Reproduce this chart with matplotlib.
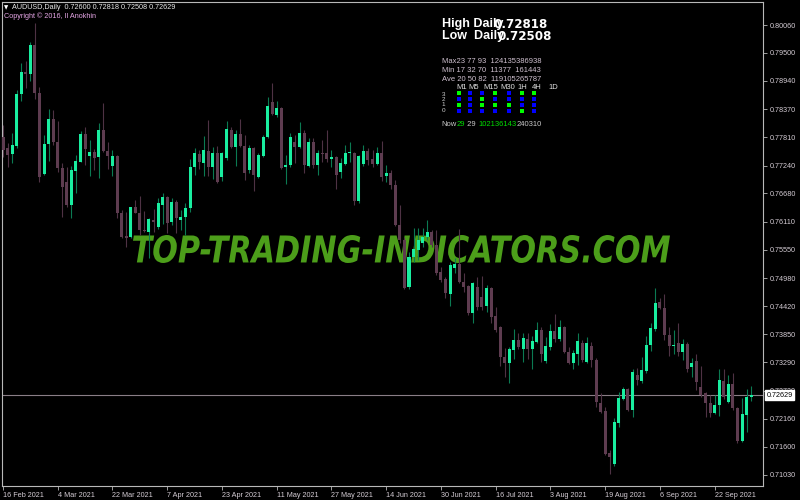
import matplotlib
matplotlib.use("Agg")
import matplotlib.pyplot as plt
import numpy as np
from matplotlib.textpath import TextPath
from matplotlib.patches import PathPatch, Rectangle
from matplotlib.font_manager import FontProperties
from matplotlib.transforms import Affine2D, IdentityTransform, blended_transform_factory

# ---------------- data (daily AUDUSD candles) ----------------
opens = [
    0.77812, 0.77586, 0.77471, 0.77638, 0.78675, 0.79117, 0.79077, 0.79659, 0.78689, 0.77070,
    0.77672, 0.78174, 0.77706, 0.77196, 0.76909, 0.76448, 0.77136, 0.77317, 0.77867, 0.77431,
    0.77505, 0.77405, 0.77953, 0.77537, 0.77236, 0.77431, 0.76293, 0.75825, 0.75799, 0.76401,
    0.76293, 0.75946, 0.75912, 0.76147, 0.76012, 0.76448, 0.76614, 0.76112, 0.76514, 0.76147,
    0.76213, 0.76381, 0.77216, 0.77471, 0.77285, 0.77537, 0.77204, 0.77485, 0.77016, 0.77385,
    0.77953, 0.77618, 0.77873, 0.77632, 0.77150, 0.77586, 0.77016, 0.77431, 0.77806, 0.78515,
    0.78254, 0.78388, 0.77216, 0.77250, 0.77712, 0.77618, 0.77887, 0.77230, 0.77718, 0.77250,
    0.77497, 0.77485, 0.77377, 0.77405, 0.77116, 0.77271, 0.77485, 0.77497, 0.76534, 0.77264,
    0.77537, 0.77365, 0.77271, 0.77497, 0.77030, 0.77084, 0.76849, 0.76046, 0.75745, 0.74808,
    0.75410, 0.75544, 0.75679, 0.75811, 0.75912, 0.75645, 0.75109, 0.74956, 0.74661, 0.75177,
    0.75264, 0.74908, 0.74822, 0.74274, 0.74808, 0.74607, 0.74421, 0.74776, 0.74220, 0.73993,
    0.73403, 0.73271, 0.73537, 0.73738, 0.73551, 0.73752, 0.73551, 0.73704, 0.73939, 0.73317,
    0.73592, 0.73919, 0.73752, 0.73993, 0.73503, 0.73271, 0.73457, 0.73684, 0.73303, 0.73618,
    0.73337, 0.72480, 0.72313, 0.71464, 0.71250, 0.72078, 0.72548, 0.72749, 0.72333, 0.73036,
    0.72921, 0.73122, 0.73638, 0.73953, 0.74507, 0.74374, 0.73839, 0.73612, 0.73672, 0.73503,
    0.73658, 0.73190, 0.73323, 0.72801, 0.72668, 0.72480, 0.72279, 0.72434, 0.72915, 0.72500,
    0.72855, 0.72367, 0.71717, 0.72233, 0.72600,
]
highs = [
    0.78053, 0.77686, 0.77887, 0.78756, 0.79292, 0.79338, 0.79725, 0.80100, 0.78822, 0.77853,
    0.78374, 0.78354, 0.78140, 0.77291, 0.77210, 0.77230, 0.77451, 0.77933, 0.78007, 0.77752,
    0.77572, 0.78087, 0.78489, 0.77718, 0.77552, 0.77451, 0.76347, 0.76313, 0.76413, 0.76548,
    0.76628, 0.76327, 0.76181, 0.76361, 0.76582, 0.76682, 0.76630, 0.76582, 0.76548, 0.76347,
    0.76482, 0.77365, 0.77586, 0.77552, 0.77832, 0.78154, 0.77618, 0.77632, 0.77517, 0.78134,
    0.78019, 0.77953, 0.78168, 0.77853, 0.77652, 0.77618, 0.77485, 0.77853, 0.78609, 0.78890,
    0.78541, 0.78420, 0.77451, 0.77887, 0.77853, 0.78119, 0.77953, 0.77786, 0.77798, 0.77552,
    0.77752, 0.77953, 0.77552, 0.77431, 0.77385, 0.77652, 0.77718, 0.77517, 0.77451, 0.77652,
    0.77586, 0.77552, 0.77618, 0.77738, 0.77250, 0.77150, 0.76949, 0.76448, 0.75811, 0.75510,
    0.75980, 0.75980, 0.75980, 0.76147, 0.75946, 0.75946, 0.75209, 0.75009, 0.75310, 0.75378,
    0.75960, 0.75077, 0.74842, 0.74908, 0.75009, 0.75023, 0.74842, 0.74808, 0.74407, 0.74019,
    0.73572, 0.73604, 0.73953, 0.73885, 0.73873, 0.73873, 0.73818, 0.74105, 0.73993, 0.73792,
    0.74059, 0.74254, 0.74140, 0.74019, 0.73604, 0.73537, 0.73873, 0.73738, 0.73804, 0.73704,
    0.73371, 0.72668, 0.72399, 0.71530, 0.72167, 0.72701, 0.72789, 0.72769, 0.73150, 0.73170,
    0.73391, 0.73818, 0.74085, 0.74776, 0.74575, 0.74661, 0.74005, 0.73939, 0.74085, 0.73752,
    0.73704, 0.73371, 0.73457, 0.73216, 0.72701, 0.72634, 0.72634, 0.73150, 0.73150, 0.73036,
    0.73082, 0.72399, 0.72568, 0.72749, 0.72818,
]
lows = [
    0.77411, 0.77216, 0.77297, 0.77586, 0.78535, 0.78790, 0.78942, 0.78575, 0.76915, 0.77050,
    0.77337, 0.77652, 0.77110, 0.76213, 0.76408, 0.76187, 0.76688, 0.77305, 0.77250, 0.77036,
    0.77150, 0.76983, 0.77511, 0.77164, 0.77036, 0.76181, 0.75779, 0.75611, 0.75779, 0.76287,
    0.75846, 0.75912, 0.75384, 0.75912, 0.75966, 0.76066, 0.75880, 0.76046, 0.75880, 0.75946,
    0.75846, 0.76313, 0.77050, 0.77164, 0.77036, 0.77036, 0.76963, 0.76895, 0.76935, 0.77351,
    0.77586, 0.77230, 0.77618, 0.76949, 0.77084, 0.76729, 0.76983, 0.77417, 0.77786, 0.78254,
    0.78220, 0.77164, 0.76869, 0.77204, 0.77285, 0.77586, 0.77096, 0.77216, 0.77184, 0.77050,
    0.77317, 0.77317, 0.77204, 0.76763, 0.76983, 0.77250, 0.77317, 0.76448, 0.76494, 0.77230,
    0.77250, 0.77204, 0.77250, 0.76935, 0.76915, 0.76763, 0.76026, 0.75679, 0.74762, 0.74756,
    0.75310, 0.75344, 0.75611, 0.75745, 0.75611, 0.75043, 0.74908, 0.74575, 0.74421, 0.75077,
    0.74876, 0.74708, 0.74240, 0.74073, 0.74340, 0.74340, 0.74306, 0.74085, 0.73905, 0.73216,
    0.72990, 0.72881, 0.73351, 0.73551, 0.73303, 0.73351, 0.73150, 0.73672, 0.73303, 0.73271,
    0.73537, 0.73704, 0.73724, 0.73471, 0.73257, 0.73150, 0.73236, 0.73303, 0.73283, 0.73190,
    0.72399, 0.72267, 0.71430, 0.71049, 0.71209, 0.71998, 0.72534, 0.72319, 0.72199, 0.72835,
    0.72869, 0.73070, 0.73523, 0.73925, 0.74354, 0.73738, 0.73417, 0.73457, 0.73417, 0.73337,
    0.73102, 0.73002, 0.72735, 0.72600, 0.72187, 0.72187, 0.72253, 0.72213, 0.72548, 0.72480,
    0.72333, 0.71677, 0.71697, 0.71898, 0.72508,
]
closes = [
    0.77552, 0.77451, 0.77652, 0.78675, 0.79117, 0.79077, 0.79659, 0.78689, 0.77016, 0.77672,
    0.78174, 0.77706, 0.77196, 0.76815, 0.76448, 0.77150, 0.77331, 0.77867, 0.77566, 0.77505,
    0.77397, 0.77953, 0.77537, 0.77431, 0.77431, 0.76293, 0.75799, 0.75791, 0.76401, 0.76293,
    0.75946, 0.75926, 0.76161, 0.76112, 0.76482, 0.76614, 0.76092, 0.76514, 0.76181, 0.76213,
    0.76381, 0.77216, 0.77485, 0.77317, 0.77552, 0.77216, 0.77485, 0.76915, 0.77485, 0.77967,
    0.77606, 0.77873, 0.77632, 0.77096, 0.77586, 0.77050, 0.77451, 0.77806, 0.78435, 0.78268,
    0.78388, 0.77184, 0.77250, 0.77818, 0.77618, 0.77887, 0.77250, 0.77712, 0.77250, 0.77497,
    0.77471, 0.77371, 0.77405, 0.77050, 0.77297, 0.77497, 0.77511, 0.76534, 0.77431, 0.77537,
    0.77351, 0.77271, 0.77497, 0.77016, 0.77096, 0.76849, 0.76046, 0.75745, 0.74776, 0.75410,
    0.75558, 0.75745, 0.75811, 0.75912, 0.75645, 0.75083, 0.74942, 0.74675, 0.75243, 0.75264,
    0.74908, 0.74808, 0.74274, 0.74888, 0.74407, 0.74407, 0.74776, 0.74206, 0.73939, 0.73403,
    0.73271, 0.73551, 0.73738, 0.73604, 0.73772, 0.73551, 0.73724, 0.73939, 0.73457, 0.73618,
    0.73919, 0.73752, 0.73993, 0.73503, 0.73271, 0.73471, 0.73718, 0.73337, 0.73684, 0.73337,
    0.72500, 0.72299, 0.71450, 0.71384, 0.72098, 0.72568, 0.72749, 0.72333, 0.73096, 0.72935,
    0.73136, 0.73638, 0.73973, 0.74487, 0.74374, 0.73839, 0.73618, 0.73638, 0.73503, 0.73658,
    0.73150, 0.73283, 0.72901, 0.72634, 0.72480, 0.72279, 0.72434, 0.72935, 0.72588, 0.72855,
    0.72367, 0.71717, 0.72253, 0.72600, 0.72629,
]
date_labels = ["16 Feb 2021", "4 Mar 2021", "22 Mar 2021", "7 Apr 2021", "23 Apr 2021",
               "11 May 2021", "27 May 2021", "14 Jun 2021", "30 Jun 2021", "16 Jul 2021",
               "3 Aug 2021", "19 Aug 2021", "6 Sep 2021", "22 Sep 2021"]
date_label_step = 12
price_ticks = [0.80060, 0.79500, 0.78940, 0.78370, 0.77810, 0.77240, 0.76680, 0.76110,
               0.75550, 0.74980, 0.74420, 0.73850, 0.73290, 0.72720, 0.72160, 0.71600, 0.71030]
symbol = "AUDUSD,Daily"
daily_high = 0.72818
daily_low = 0.72508
current_price = 0.72629

stat_max = "Max23 77 93  124135386938"
stat_min = "Min 17 32 70  11377  161443"
stat_ave = "Ave 20 50 82  119105265787"
timeframes = ["M1", "M5", "M15", "M30", "1H", "4H", "1D"]
# state grid (rows 3..0, columns per timeframe), 1 = green, 0 = blue
state_grid = [
    [1, 0, 0, 1, 0, 1, 1],
    [0, 0, 1, 0, 0, 0, 0],
    [1, 0, 1, 1, 1, 0, 0],
    [0, 0, 0, 0, 0, 1, 0],
]
now_segments = [("Now", 0), ("29", 1), (" 29 ", 0), ("102136143", 1), ("240310", 0)]

# ---------------- style ----------------
plt.rcParams['font.family'] = ['Liberation Sans', 'DejaVu Sans']
W, H = 800, 500
BG = "black"
BULL_BODY = "#19eea0"
BULL_WICK = "#0b7a52"
BEAR_BODY = "#5e3c50"
BEAR_WICK = "#4e3244"
FRAME = "#b8b8b8"
TXT = "#d4ccd4"
SMALL = 5.2

fig = plt.figure(figsize=(W / 100, H / 100), dpi=100, facecolor=BG)
ax = fig.add_axes([2 / W, 14 / H, 761 / W, 484 / H], facecolor=BG)

n = len(opens)
xs = np.arange(n)
o = np.array(opens); h = np.array(highs); l = np.array(lows); c = np.array(closes)
up = c >= o

# watermark (under candles)
fp_wm = FontProperties(family='DejaVu Sans', weight='bold', style='italic')
tp = TextPath((0, 0), "TOP-TRADING-INDICATORS.COM", size=100, prop=fp_wm)
bb = tp.get_extents()
x0, x1, y0, y1 = 133, 670, 500 - 263, 500 - 235
tr = Affine2D().translate(-bb.x0, -bb.y0).scale((x1 - x0) / bb.width, (y1 - y0) / bb.height).translate(x0, y0)
wm = PathPatch(tr.transform_path(tp), transform=IdentityTransform(), fc="#4c9e1a", ec="none", zorder=1)
ax.add_artist(wm)

# current price line
ax.axhline(current_price, color="#8a7e86", lw=0.8, zorder=1.5)

# candles
for cond, wcol, bcol in [(up, BULL_WICK, BULL_BODY), (~up, BEAR_WICK, BEAR_BODY)]:
    ax.vlines(xs[cond], l[cond], h[cond], color=wcol, lw=0.8, zorder=2)
    bottoms = np.minimum(o, c)[cond]
    heights = np.maximum(np.abs(c - o)[cond], 0.00015)
    ax.bar(xs[cond], heights, bottom=bottoms, width=0.66, color=bcol, lw=0, zorder=3)

ax.set_xlim(-0.22, 166.6)
ax.set_ylim(0.70808, 0.80522)

for s in ax.spines.values():
    s.set_color(FRAME)
    s.set_linewidth(0.8)

ax.yaxis.tick_right()
ax.set_yticks(price_ticks)
ax.set_yticklabels(["%.5f" % v for v in price_ticks])
ax.tick_params(axis='y', direction='out', length=3, width=0.6, color=FRAME,
               labelcolor=TXT, labelsize=SMALL, pad=1.5)
ax.set_xticks(np.arange(len(date_labels)) * date_label_step)
ax.set_xticklabels(date_labels)
for t in ax.get_xticklabels():
    t.set_ha('left')
ax.tick_params(axis='x', direction='out', length=3, width=0.6, color=FRAME,
               labelcolor=TXT, labelsize=SMALL, pad=1.2)

# price label box
bt = blended_transform_factory(ax.transAxes, ax.transData)
ax.text(1.0045, current_price, "%.5f" % current_price, transform=bt, va='center', ha='left',
        fontsize=SMALL, color="black", clip_on=False, zorder=10,
        bbox=dict(boxstyle='square,pad=0.18', fc='white', ec='white'))

def fx(x):
    return x / W

def fy(y):
    return 1 - y / H

# header
fig.text(fx(4), fy(7.5), "\u25bc", fontsize=4, color="white", va='center', ha='left',
         family=['DejaVu Sans'])
fig.text(fx(12.5), fy(7.5), "%s  %.5f %.5f %.5f %.5f" % (symbol, opens[-1], highs[-1], lows[-1], closes[-1]),
         fontsize=SMALL, color="#e8e8e8", va='center', ha='left')
fig.text(fx(4.5), fy(16.5), "Copyright \u00a9 2016, Il Anokhin", fontsize=SMALL, color="#e6a6e6",
         va='center', ha='left')

# indicator panel
fig.text(fx(442), fy(24.5), "High Daily", fontsize=9, weight='bold', color="white", va='center', ha='left')
fig.text(fx(493), fy(24.5), "%.5f" % daily_high, fontsize=8.6, weight='bold', color="white",
         va='center', ha='left', family=['DejaVu Sans'])
fig.text(fx(442), fy(36.5), "Low  Daily", fontsize=9, weight='bold', color="white", va='center', ha='left')
fig.text(fx(497), fy(36.5), "%.5f" % daily_low, fontsize=8.6, weight='bold', color="white",
         va='center', ha='left', family=['DejaVu Sans'])

STAT = "#cfc0cf"
for txt, yy in [(stat_max, 61.7), (stat_min, 71), (stat_ave, 79.5)]:
    fig.text(fx(441.5), fy(yy), txt, fontsize=5.5, color=STAT, va='center', ha='left')

tf_x = [456.7, 468.3, 483.3, 500, 517.3, 531.7, 548.3]
for name, xx in zip(timeframes, tf_x):
    fig.text(fx(xx), fy(87.3), name, fontsize=5.5, color="#e0e0e0", va='center', ha='left')

for k, yy in zip(["3", "2", "1", "0"], [94, 99.5, 105, 111]):
    fig.text(fx(441.5), fy(yy), k, fontsize=4.6, color="#d0d0d0", va='center', ha='left')

col_x = [459, 470, 481.7, 495, 509.3, 521.7, 534]
row_y = [93.3, 99.3, 105, 110.7]
for r, yy in enumerate(row_y):
    for ci, xx in enumerate(col_x):
        colr = "#00ff00" if state_grid[r][ci] else "#0000ff"
        fig.patches.append(Rectangle(((xx - 2) / W, 1 - (yy + 2) / H), 4 / W, 4 / H,
                                     transform=fig.transFigure, fc=colr, ec='none'))

prev = None
for seg, green in now_segments:
    colr = "#00dd00" if green else "#c8c8c8"
    if prev is None:
        prev = ax.annotate(seg, xy=(fx(441.5), fy(124.5)), xycoords='figure fraction', va='center',
                           ha='left', fontsize=5.5, color=colr, annotation_clip=False)
    else:
        prev = ax.annotate(seg, xy=(1, 0), xycoords=prev, va='bottom', ha='left',
                           fontsize=5.5, color=colr, annotation_clip=False)

fig.savefig("out.png", dpi=100, facecolor=BG)
